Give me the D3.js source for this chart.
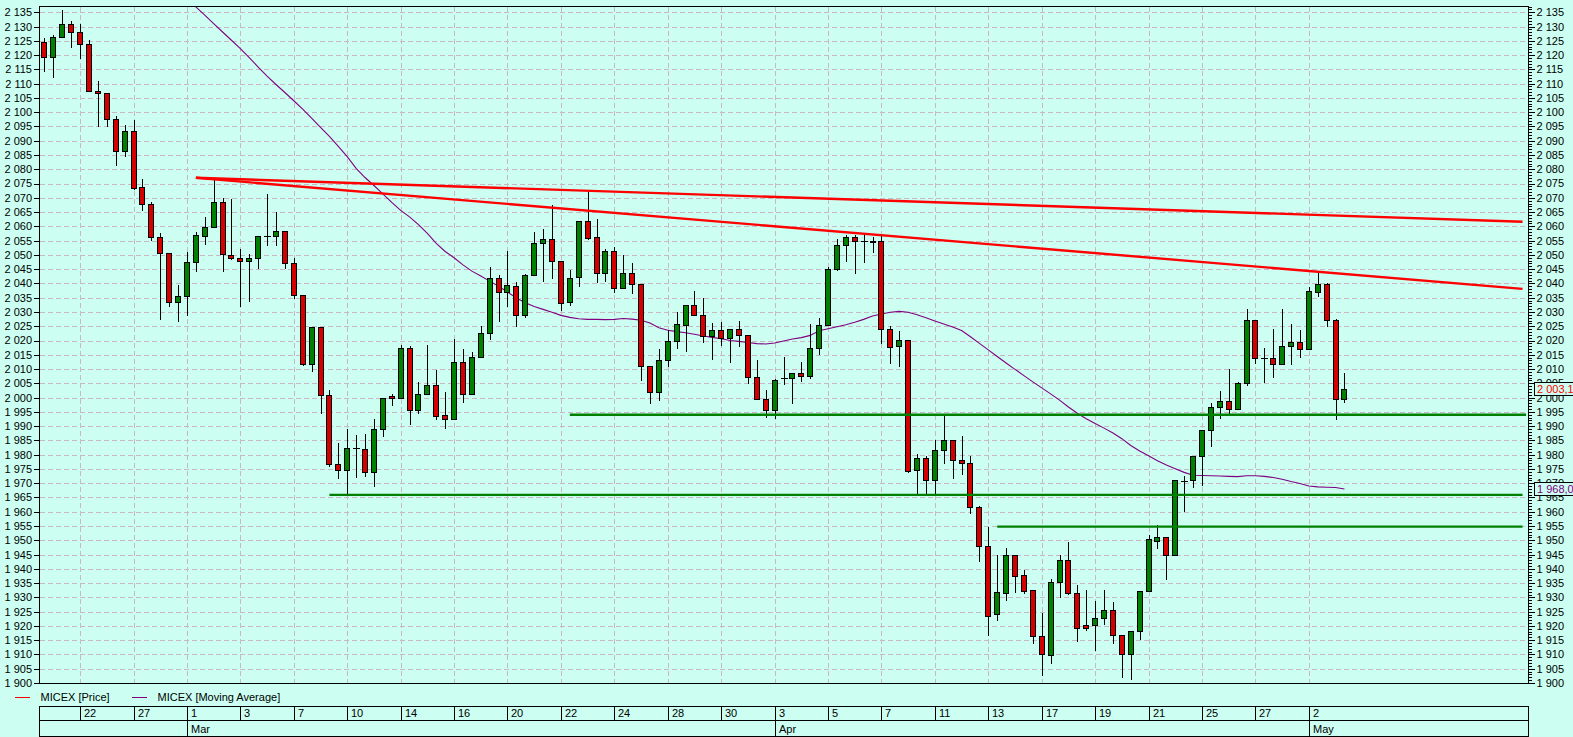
<!DOCTYPE html>
<html><head><meta charset="utf-8">
<script src="https://cdn.jsdelivr.net/npm/d3@7"></script>
<style>
html,body{margin:0;padding:0;background:#ccfff2;}
svg{display:block;font-family:"Liberation Sans",Arial,sans-serif;font-size:11px;}
</style></head><body>
<svg id="chart" width="1573" height="737"></svg>
<script>
// ---------- DATA ----------
const opens = [2124.6,2119.3,2126.3,2130.9,2128.1,2123.9,2107.4,2106.7,2097.6,2086.3,
2093.5,2073.7,2067.8,2056.4,2050.7,2033.4,2035.5,2047.4,2056.5,2059.8,
2068.5,2050.0,2048.9,2047.7,2048.9,2056.7,2056.7,2058.2,2047.2,2036.0,
2011.9,2024.9,2001.0,1976.8,1974.5,1982.4,1982.1,1974.1,1989.1,2000.6,
2000.0,2017.2,1995.8,2001.4,2004.5,1994.0,1992.6,2012.6,2001.4,2014.3,
2022.8,2042.0,2037.1,2039.2,2029.1,2042.8,2054.3,2055.4,2048.0,2033.6,
2042.3,2061.7,2056.1,2043.8,2051.2,2038.5,2043.5,2039.9,2011.2,2002.1,
2013.3,2020.0,2025.6,2032.6,2029.1,2021.6,2023.8,2021.0,2024.2,2022.1,
2007.3,1999.5,1995.6,2007.0,2007.0,2008.7,2007.6,2017.5,2025.6,2045.2,
2053.3,2056.4,2055.0,2055.0,2054.8,2024.2,2018.1,2020.3,1974.6,1978.9,
1971.2,1981.7,1985.2,1978.1,1977.0,1961.5,1947.9,1924.1,1931.4,1944.8,
1937.8,1932.5,1916.4,1909.7,1935.3,1943.0,1931.4,1920.2,1920.2,1922.7,
1925.5,1916.7,1910.1,1918.1,1932.1,1949.7,1951.1,1944.8,1970.7,1971.0,
1979.7,1988.8,1996.6,1998.7,1995.9,2005.0,2027.1,2014.0,2013.8,2011.7,
2018.0,2019.4,2016.9,2037.0,2039.7,2027.1,1999.4];
const highs = [2126.0,2127.2,2135.9,2132.1,2130.9,2125.4,2111.0,2106.7,2098.8,2095.6,
2097.4,2076.7,2068.7,2057.5,2050.7,2039.6,2051.1,2057.9,2063.4,2076.2,
2069.9,2069.5,2052.1,2050.3,2056.6,2071.3,2064.9,2058.2,2048.8,2036.0,
2024.9,2024.9,2002.5,1984.2,1988.9,1987.0,1987.3,1992.6,2000.0,2001.4,
2018.3,2018.0,2005.3,2018.3,2009.6,2001.8,2020.7,2016.9,2016.1,2025.0,
2045.7,2042.9,2051.3,2040.6,2043.2,2057.9,2059.0,2067.4,2048.0,2044.6,
2061.7,2072.1,2062.5,2052.0,2052.6,2049.9,2047.3,2039.9,2011.2,2016.9,
2023.6,2030.0,2032.6,2037.3,2034.9,2026.3,2026.4,2024.2,2026.7,2022.1,
2013.0,2002.8,2006.6,2014.2,2008.7,2012.4,2025.7,2027.8,2045.8,2055.7,
2056.9,2056.9,2056.9,2056.1,2056.9,2025.2,2023.2,2020.3,1980.3,1979.4,
1985.0,1993.4,1985.2,1986.6,1979.6,1962.1,1954.8,1944.9,1947.2,1944.8,
1939.6,1932.5,1924.4,1936.4,1944.9,1949.3,1934.3,1932.5,1928.8,1932.5,
1928.4,1916.7,1918.1,1932.1,1951.9,1955.3,1951.1,1971.1,1972.5,1979.7,
1988.8,1998.0,2002.3,2010.0,2005.3,2030.9,2027.1,2017.3,2024.0,2030.9,
2025.7,2023.7,2038.9,2043.8,2040.0,2027.4,2008.5];
const lows = [2114.3,2112.2,2126.3,2122.7,2119.0,2107.4,2095.3,2095.3,2081.6,2084.5,
2073.0,2065.8,2055.3,2027.5,2032.0,2027.0,2029.0,2044.2,2053.8,2059.8,
2044.2,2048.6,2032.2,2033.9,2045.3,2053.4,2053.4,2045.4,2034.9,2011.3,
2009.3,1994.6,1976.0,1971.8,1966.1,1972.1,1972.6,1968.9,1986.5,1997.3,
2000.0,1990.8,1994.7,2001.4,1992.5,1989.4,1992.6,1998.4,2001.4,2014.3,
2020.7,2026.9,2032.0,2025.1,2028.3,2042.8,2040.9,2041.9,2030.6,2032.6,
2039.1,2055.6,2040.5,2040.9,2037.1,2038.5,2036.8,2006.0,1998.2,1999.0,
2011.1,2017.4,2016.3,2029.1,2019.5,2013.5,2018.3,2012.5,2018.0,2005.1,
1999.5,1993.2,1992.7,2004.6,1998.1,2005.8,2006.9,2015.2,2025.6,2044.6,
2047.8,2043.7,2047.5,2051.1,2019.1,2012.1,2011.1,1973.9,1966.3,1966.3,
1966.3,1977.0,1972.0,1973.3,1959.7,1942.9,1916.8,1922.1,1929.1,1931.9,
1931.7,1914.1,1902.8,1906.9,1930.3,1931.1,1914.8,1918.4,1911.7,1920.8,
1914.1,1902.0,1901.3,1915.3,1932.1,1947.2,1936.6,1944.8,1960.3,1968.8,
1969.3,1983.1,1992.7,1994.7,1995.9,2004.3,2012.2,2005.6,2007.1,2011.7,
2011.7,2014.3,2016.9,2035.7,2025.2,1992.6,1998.6];
const closes = [2119.3,2126.3,2130.9,2128.1,2123.9,2107.4,2106.7,2097.6,2086.3,2093.5,
2073.3,2067.8,2056.4,2050.7,2033.4,2035.7,2047.6,2057.0,2059.8,2068.5,
2050.2,2048.8,2047.7,2048.9,2056.6,2056.7,2058.4,2047.2,2036.0,2011.9,
2024.9,2001.0,1976.8,1974.5,1982.4,1982.4,1974.1,1989.1,2000.0,2000.0,
2017.2,1995.8,2001.4,2004.5,1993.6,1992.6,2012.6,2001.4,2014.3,2022.8,
2042.0,2037.1,2039.6,2029.1,2042.8,2054.3,2055.7,2048.0,2033.3,2042.0,
2061.7,2056.0,2043.8,2051.2,2038.5,2043.5,2039.9,2011.2,2002.1,2013.3,
2020.0,2025.9,2032.6,2029.1,2021.6,2023.8,2021.0,2024.2,2022.1,2007.3,
1999.5,1995.6,2006.3,2007.0,2008.7,2007.6,2017.5,2025.6,2045.2,2053.3,
2056.4,2055.0,2055.0,2054.7,2024.2,2017.7,2020.3,1974.2,1978.9,1971.2,
1981.5,1985.2,1978.1,1977.0,1961.5,1947.9,1923.6,1931.8,1944.8,1937.4,
1932.1,1916.4,1910.1,1935.3,1943.0,1931.4,1919.2,1919.2,1922.7,1925.5,
1916.7,1910.1,1918.1,1932.1,1950.4,1951.1,1944.8,1971.1,1970.7,1979.7,
1988.8,1996.6,1998.7,1995.9,2005.0,2027.1,2014.0,2014.0,2011.7,2018.0,
2019.4,2016.9,2037.2,2039.7,2027.1,1999.4,2003.1];

// moving average, first value belongs to candle index maStart
const maStart = 16;
const maValues = [2140.0,2136.9,2134.0,2131.0,2128.1,2125.2,2122.3,2119.1,2115.8,2112.6,
2109.7,2106.9,2104.0,2101.1,2097.9,2094.7,2091.5,2088.0,2084.4,2080.3,
2077.1,2074.3,2071.4,2068.4,2065.6,2063.3,2060.6,2057.5,2054.0,2051.2,
2049.0,2046.5,2044.3,2042.6,2040.8,2039.0,2037.0,2034.9,2033.2,2031.9,
2030.9,2029.9,2028.8,2028.1,2027.6,2027.4,2027.4,2027.3,2027.4,2027.7,
2027.5,2027.1,2026.1,2024.5,2023.6,2023.1,2022.7,2022.2,2021.6,2021.1,
2020.6,2020.0,2019.7,2019.3,2018.9,2018.8,2019.1,2019.8,2020.5,2021.0,
2021.8,2023.4,2024.1,2024.8,2025.5,2026.4,2027.4,2028.6,2029.3,2029.9,
2030.2,2029.9,2029.0,2028.0,2026.8,2025.8,2024.7,2023.5,2021.3,2019.0,
2016.7,2014.4,2012.1,2009.9,2007.7,2005.5,2003.4,2001.3,1999.1,1996.7,
1994.5,1992.6,1990.9,1989.3,1987.6,1985.6,1983.2,1981.3,1979.6,1977.9,
1976.4,1975.1,1973.8,1972.8,1972.7,1972.6,1972.5,1972.4,1972.3,1972.6,
1972.6,1972.4,1972.0,1971.4,1970.6,1969.9,1969.0,1968.7,1968.6,1968.5,
1968.0];

// date axis: day labels and the candle index where each starts
const dayLabels = ["22","27","1","3","7","10","14","16","20","22","24","28","30","3","5","7","11","13","17","19","21","25","27","2"];
const dayIndex  = [4,10,16,22,28,34,40,46,52,58,64,70,76,82,88,94,100,106,112,118,124,130,136,142];
const monthLabels = ["Mar","Apr","May"];
const monthIndex  = [16,82,142];

// drawn studies: trend lines [startIndex, startValue, endIndex, endValue]
const trendLines = [[17,2077.0,166,2061.6],[17,2077.0,166,2038.1]];
// horizontal support levels [startIndex, value, endIndex]
const supports = [[59,1994.0,166.4],[32,1965.9,166],[107,1954.8,166]];

const yTicks = d3.range(1900, 2136, 5);
const yMinor = d3.range(1900, 2138, 1);
const legendItems = ["MICEX [Price]","MICEX [Moving Average]"];

// ---------- LAYOUT ----------
const BG = "#ccfff2";
const L = 39.5, R = 1528.5, T = 6.5, B = 683.5;
const svg = d3.select("#chart");
svg.append("rect").attr("width",1573).attr("height",737).attr("fill",BG);

const x = d3.scaleLinear().domain([-0.56, 166.67]).range([L, R]);
const y = d3.scaleLinear().domain([1900, 2137.2]).range([683, 6]);
const px = v => Math.round(v) + 0.5;

const loc = d3.formatLocale({decimal:",", thousands:" ", grouping:[3], currency:["",""]});
const fTick = loc.format(",d");
const fVal = loc.format(",.1f");

svg.append("defs").append("clipPath").attr("id","plotclip")
  .append("rect").attr("x",L).attr("y",T).attr("width",R-L).attr("height",B-T);

// grid
const grid = svg.append("g").attr("stroke","#c9b8c2").attr("stroke-dasharray","5,3").attr("shape-rendering","crispEdges");
grid.selectAll("line.h").data(yTicks).join("line").attr("class","h")
  .attr("x1",L).attr("x2",R).attr("y1",d=>px(y(d))).attr("y2",d=>px(y(d)));
grid.selectAll("line.v").data(dayIndex).join("line").attr("class","v")
  .attr("x1",d=>px(x(d))).attr("x2",d=>px(x(d))).attr("y1",T).attr("y2",B);

// axes: left
const ax = svg.append("g").attr("shape-rendering","crispEdges");
ax.selectAll("line.lt").data(yTicks).join("line").attr("class","lt")
  .attr("x1",L-6).attr("x2",L).attr("y1",d=>px(y(d))).attr("y2",d=>px(y(d))).attr("stroke","#000");
svg.selectAll("text.ll").data(yTicks).join("text").attr("class","ll")
  .attr("x",32).attr("y",d=>y(d)).attr("dy","0.36em").attr("text-anchor","end").attr("fill","#000").text(fTick);
// right
ax.selectAll("line.rm").data(yMinor).join("line").attr("class","rm")
  .attr("x1",R).attr("x2",d=> d%5===0 ? R+6 : R+3).attr("y1",d=>px(y(d))).attr("y2",d=>px(y(d))).attr("stroke","#000");
svg.selectAll("text.rl").data(yTicks).join("text").attr("class","rl")
  .attr("x",1536.5).attr("y",d=>y(d)).attr("dy","0.36em").attr("fill","#000").text(fTick);

// plot content
const plot = svg.append("g").attr("clip-path","url(#plotclip)");

// moving average
const maLine = d3.line().x((d,i)=>x(i+maStart)).y(d=>y(d));
plot.append("path").attr("d",maLine(maValues)).attr("fill","none").attr("stroke","#800080").attr("stroke-width",1.1);

// candles
const candles = opens.map((o,i)=>({i,o,h:highs[i],l:lows[i],c:closes[i]}));
const cg = plot.append("g").attr("shape-rendering","crispEdges");
cg.selectAll("line.wick").data(candles).join("line").attr("class","wick")
  .attr("x1",d=>px(x(d.i))).attr("x2",d=>px(x(d.i)))
  .attr("y1",d=>Math.round(y(d.h))).attr("y2",d=>Math.round(y(d.l))+1)
  .attr("stroke","#000");
const bodies = candles.filter(d=>Math.abs(d.o-d.c)>=0.05);
cg.selectAll("rect.body").data(bodies).join("rect").attr("class","body")
  .attr("x",d=>Math.round(x(d.i))-2.5).attr("width",5)
  .attr("y",d=>px(y(Math.max(d.o,d.c))))
  .attr("height",d=>Math.max(1, Math.round(y(Math.min(d.o,d.c)))-Math.round(y(Math.max(d.o,d.c)))))
  .attr("fill",d=>d.c>d.o ? "#008000" : "#d40000")
  .attr("stroke","#000").attr("stroke-width",1);
const dojis = candles.filter(d=>Math.abs(d.o-d.c)<0.05);
cg.selectAll("line.doji").data(dojis).join("line").attr("class","doji")
  .attr("x1",d=>Math.round(x(d.i))-3).attr("x2",d=>Math.round(x(d.i))+4)
  .attr("y1",d=>px(y(d.c))).attr("y2",d=>px(y(d.c))).attr("stroke","#000");

// trend lines
plot.selectAll("line.trend").data(trendLines).join("line").attr("class","trend")
  .attr("x1",d=>x(d[0])).attr("y1",d=>y(d[1])).attr("x2",d=>x(d[2])).attr("y2",d=>y(d[3]))
  .attr("stroke","#ff0000").attr("stroke-width",2.4);
// supports
plot.selectAll("line.sup").data(supports).join("line").attr("class","sup")
  .attr("x1",d=>x(d[0])).attr("x2",d=>x(d[2])).attr("y1",d=>y(d[1])).attr("y2",d=>y(d[1]))
  .attr("stroke","#008000").attr("stroke-width",2.4);

// frame
svg.append("rect").attr("x",L).attr("y",T).attr("width",R-L).attr("height",B-T)
  .attr("fill","none").attr("stroke","#000").attr("shape-rendering","crispEdges");

// last value labels
const lastLabels = [
  {v: closes[closes.length-1], color:"#ff0000"},
  {v: maValues[maValues.length-1], color:"#800080"}
];
const lg = svg.append("g");
lg.selectAll("rect").data(lastLabels).join("rect")
  .attr("x",1534.5).attr("y",d=>Math.round(y(d.v))-6.5).attr("width",42).attr("height",13)
  .attr("fill",BG).attr("stroke","#000").attr("shape-rendering","crispEdges");
lg.selectAll("text").data(lastLabels).join("text")
  .attr("x",1537).attr("y",d=>y(d.v)).attr("dy","0.36em").attr("fill",d=>d.color).text(d=>fVal(d.v));

// legend
const legColors = ["#ff0000","#800080"];
const legX = [15, 132];
const leg = svg.append("g");
legendItems.forEach((t,k)=>{
  leg.append("line").attr("x1",legX[k]).attr("x2",legX[k]+15).attr("y1",697.5).attr("y2",697.5)
    .attr("stroke",legColors[k]).attr("shape-rendering","crispEdges");
  leg.append("text").attr("x",legX[k]+25.5).attr("y",697).attr("dy","0.36em").attr("fill","#000").text(t);
});

// date axis
const dTop = 706.5, dMid = 720.5, dBot = 736.5;
const da = svg.append("g").attr("shape-rendering","crispEdges").attr("stroke","#000");
da.append("rect").attr("x",L).attr("y",dTop).attr("width",R-L).attr("height",dBot-dTop).attr("fill","none");
da.append("line").attr("x1",L).attr("x2",R).attr("y1",dMid).attr("y2",dMid);
da.selectAll("line.dd").data(dayIndex).join("line").attr("class","dd")
  .attr("x1",d=>px(x(d))).attr("x2",d=>px(x(d))).attr("y1",dTop).attr("y2",dMid);
da.selectAll("line.md").data(monthIndex).join("line").attr("class","md")
  .attr("x1",d=>px(x(d))).attr("x2",d=>px(x(d))).attr("y1",dMid).attr("y2",dBot);
svg.selectAll("text.day").data(dayLabels).join("text").attr("class","day")
  .attr("x",(d,k)=>px(x(dayIndex[k]))+3.5).attr("y",713.5).attr("dy","0.36em").attr("fill","#000").text(d=>d);
svg.selectAll("text.mon").data(monthLabels).join("text").attr("class","mon")
  .attr("x",(d,k)=>px(x(monthIndex[k]))+3.5).attr("y",729).attr("dy","0.36em").attr("fill","#000").text(d=>d);
</script>
</body></html>
